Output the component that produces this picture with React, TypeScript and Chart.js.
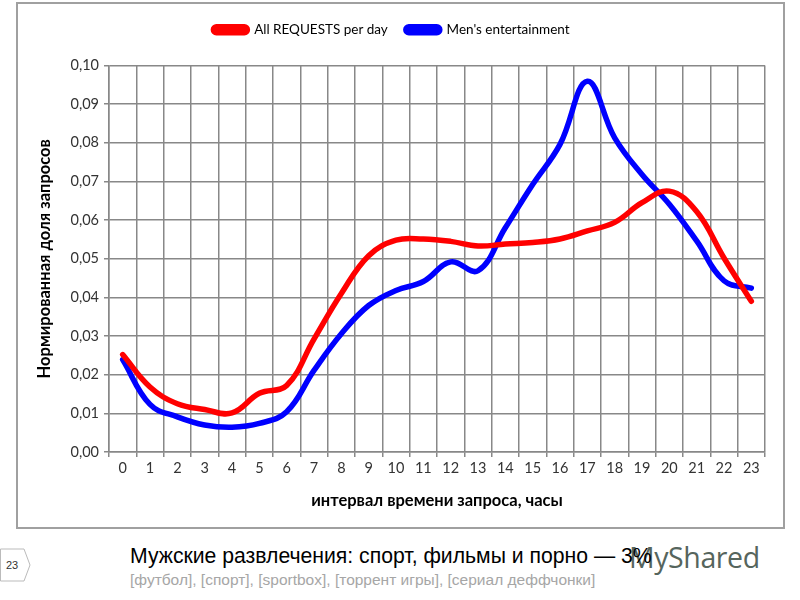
import { useEffect, useRef } from 'react';
import { Chart, registerables } from 'chart.js';

Chart.register(...registerables);

const HOURS = ['0', '1', '2', '3', '4', '5', '6', '7', '8', '9', '10', '11', '12', '13', '14', '15', '16', '17', '18', '19', '20', '21', '22', '23'];

const ALL_REQUESTS = [
  0.0252, 0.0168, 0.0125, 0.011, 0.0101, 0.0152, 0.0172, 0.0292, 0.041, 0.0508, 0.0548, 0.0551,
  0.0545, 0.0533, 0.0538, 0.0542, 0.0551, 0.0572, 0.0594, 0.0645, 0.0675, 0.0622, 0.0502, 0.039,
];

const MENS_ENTERTAINMENT = [
  0.0239, 0.0123, 0.0091, 0.007, 0.0064, 0.0074, 0.0104, 0.0211, 0.0306, 0.0379, 0.0418, 0.0441,
  0.0492, 0.0469, 0.058, 0.0692, 0.0796, 0.0959, 0.0813, 0.0718, 0.0641, 0.0546, 0.0443, 0.0424,
];

const SERIES_NAMES = ['All REQUESTS per day', "Men's entertainment"];
const Y_TITLE = 'Нормированная доля запросов';
const X_TITLE = 'интервал времени запроса, часы';
const SLIDE_TITLE = 'Мужские развлечения: спорт, фильмы и порно — 3%';
const SLIDE_SUB = '[футбол], [спорт], [sportbox], [торрент игры], [сериал деффчонки]';

const FONT = 'Lato, "Open Sans", sans-serif';

// extra room under the legend so the plot starts where Excel put it
const legendSpacer = {
  id: 'legendSpacer',
  beforeInit(chart: any) {
    const fit = chart.legend.fit;
    chart.legend.fit = function () {
      fit.call(this);
      this.height += 19;
    };
  },
};

function TrafficChart() {
  const canvasRef = useRef<HTMLCanvasElement>(null);
  const chartRef = useRef<Chart | null>(null);

  useEffect(() => {
    if (!canvasRef.current) return;
    chartRef.current?.destroy();

    chartRef.current = new Chart(canvasRef.current, {
      type: 'line',
      data: {
        labels: HOURS,
        datasets: [
          {
            label: SERIES_NAMES[0],
            data: ALL_REQUESTS,
            borderColor: '#ff0000',
            backgroundColor: '#ff0000',
            borderWidth: 5.5,
            pointRadius: 0,
            tension: 0.4,
            borderCapStyle: 'round',
          },
          {
            label: SERIES_NAMES[1],
            data: MENS_ENTERTAINMENT,
            borderColor: '#0000ff',
            backgroundColor: '#0000ff',
            borderWidth: 5.5,
            pointRadius: 0,
            tension: 0.4,
            borderCapStyle: 'round',
          },
        ],
      },
      plugins: [legendSpacer],
      options: {
        animation: false,
        responsive: true,
        maintainAspectRatio: false,
        layout: { padding: { top: 1, right: 18, left: 0, bottom: 0 } },
        plugins: {
          tooltip: { enabled: false },
          legend: {
            position: 'top',
            labels: {
              color: '#000',
              font: { size: 13.5, family: FONT },
              boxWidth: 34,
              boxHeight: 6,
              useBorderRadius: true,
              borderRadius: 3,
              padding: 18,
            },
          },
        },
        scales: {
          x: {
            offset: true,
            grid: { offset: true, color: '#888', lineWidth: 1.5, tickLength: 5, drawTicks: true },
            border: { color: '#888', width: 1.5 },
            ticks: { color: '#333', font: { size: 14.5, family: FONT }, padding: 3, maxRotation: 0, autoSkip: false },
            title: {
              display: true,
              text: X_TITLE,
              color: '#000',
              font: { size: 16.5, weight: 'bold', family: FONT },
              padding: { bottom: 16 },
            },
            afterFit: (scale) => { scale.height = 75; },
          },
          y: {
            min: 0,
            max: 0.1,
            grid: { color: '#888', lineWidth: 1.5, tickLength: 5 },
            border: { color: '#888', width: 1.5 },
            ticks: {
              stepSize: 0.01,
              color: '#333',
              font: { size: 14.5, family: FONT },
              padding: 5,
              callback: (v) => Number(v).toFixed(2).replace('.', ','),
            },
            title: {
              display: true,
              text: Y_TITLE,
              color: '#000',
              font: { size: 16.5, weight: 'bold', family: FONT },
              padding: { top: 17 },
            },
            afterFit: (scale) => { scale.width = 91; },
          },
        },
      },
    });

    return () => { chartRef.current?.destroy(); chartRef.current = null; };
  }, []);

  return (
    <div style={{ position: 'relative', width: '100%', height: '100%' }}>
      <canvas ref={canvasRef} />
    </div>
  );
}

export default function App() {
  useEffect(() => { document.body.style.margin = '0'; }, []);

  return (
    <div style={{ position: 'relative', width: 800, height: 600, background: '#fff', overflow: 'hidden' }}>
      <div style={{
        position: 'absolute', left: 16, top: 2, width: 769, height: 527,
        border: '2px solid #a0a0a0', boxSizing: 'border-box', background: '#fff',
      }}>
        <TrafficChart />
      </div>

      <svg width={40} height={40} style={{ position: 'absolute', left: 0, top: 547 }}>
        <polygon points="0.5,2 24,2 30,18 24,34 0.5,34" fill="#fff" stroke="#bbb" strokeWidth={1} />
        <text x={12} y={22} fontSize={11} fontFamily='"Liberation Sans", Arial' textAnchor="middle" fill="#333">23</text>
      </svg>

      <div style={{
        position: 'absolute', left: 629, top: 538, fontSize: 28.5, color: '#56655d',
        fontFamily: '"Open Sans", sans-serif', letterSpacing: -0.4,
      }}>MyShared</div>

      <div style={{
        position: 'absolute', left: 130, top: 544, fontSize: 21.2, color: '#000',
        fontFamily: '"Liberation Sans", Arial, sans-serif', whiteSpace: 'nowrap',
      }}>{SLIDE_TITLE}</div>

      <div style={{
        position: 'absolute', left: 130, top: 571, fontSize: 15.5, color: '#a6a6a6',
        fontFamily: '"Liberation Sans", Arial, sans-serif', whiteSpace: 'nowrap',
      }}>{SLIDE_SUB}</div>
    </div>
  );
}
